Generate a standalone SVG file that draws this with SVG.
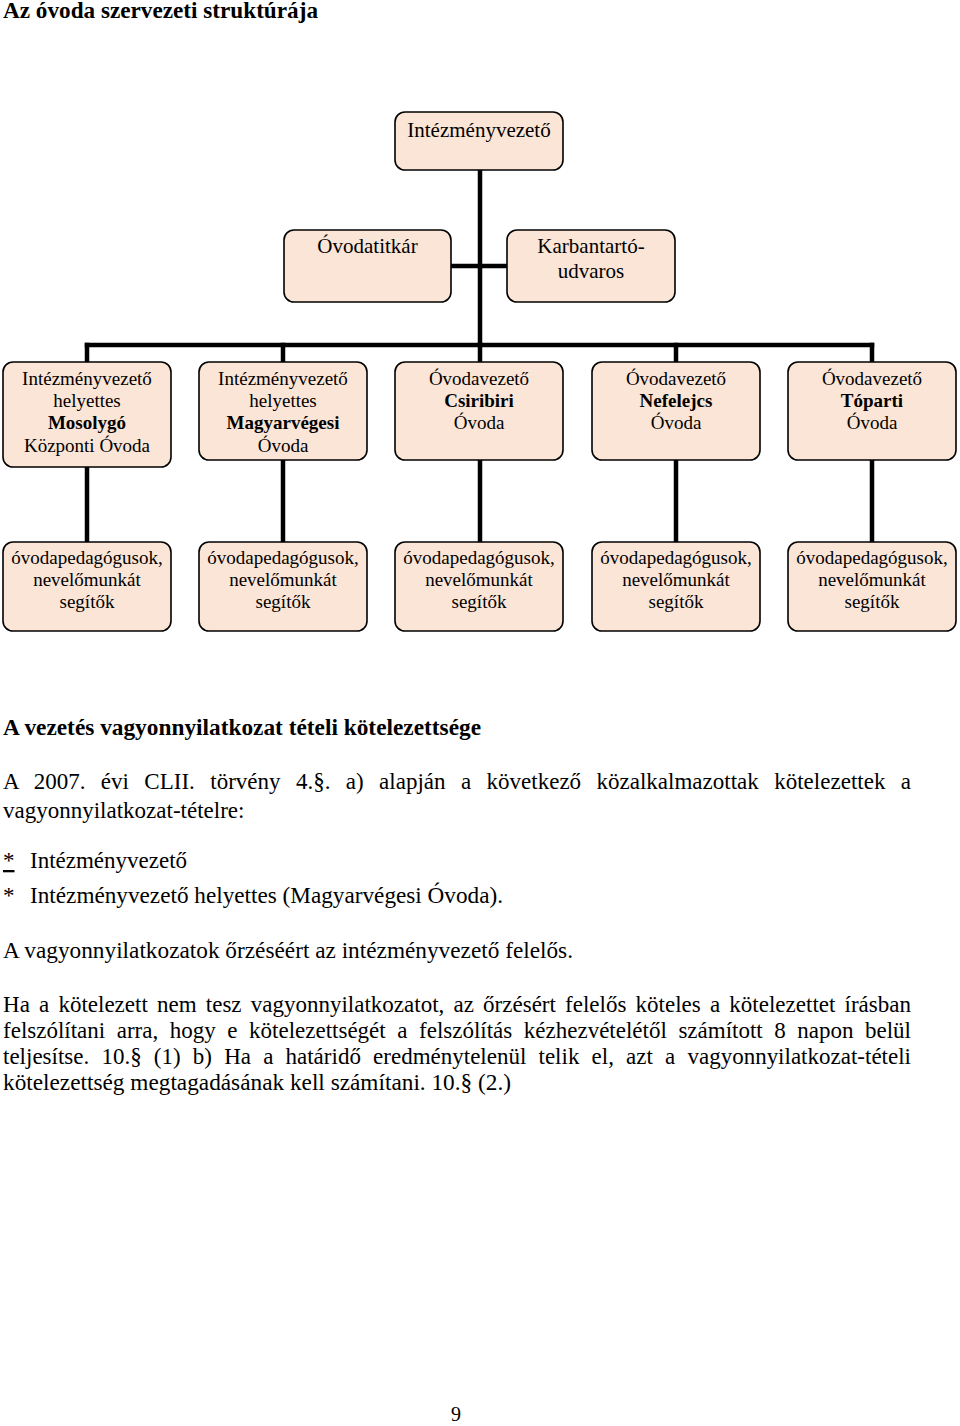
<svg xmlns="http://www.w3.org/2000/svg" width="960" height="1426" viewBox="0 0 960 1426">
<style>
  .bg { fill: #ffffff; }
  .box { fill: #FBE5D6; stroke: #000000; stroke-width: 1.6; }
  .conn { fill: none; stroke: #000000; stroke-width: 4.5; stroke-linecap: square; }
  .t { font-family: "Liberation Serif", "Times New Roman", serif; fill: #000000; }
  .big { font-size: 21px; text-anchor: middle; }
  .mid { font-size: 19px; text-anchor: middle; }
  .body { font-size: 23px; }
  .b { font-weight: bold; }
</style>
<rect class="bg" x="0" y="0" width="960" height="1426"/>

<text class="t body b" x="3" y="18" textLength="315" lengthAdjust="spacingAndGlyphs">Az óvoda szervezeti struktúrája</text>

<g id="connectors">
  <path class="conn" d="M480,170 V345"/>
  <path class="conn" d="M451,266 H507"/>
  <path class="conn" d="M87,345 H872"/>
  <path class="conn" d="M87,345 V362"/>
  <path class="conn" d="M283,345 V362"/>
  <path class="conn" d="M480,345 V362"/>
  <path class="conn" d="M676,345 V362"/>
  <path class="conn" d="M872,345 V362"/>
  <path class="conn" d="M87,467 V542"/>
  <path class="conn" d="M283,460 V542"/>
  <path class="conn" d="M480,460 V542"/>
  <path class="conn" d="M676,460 V542"/>
  <path class="conn" d="M872,460 V542"/>
</g>

<g id="n_intezmenyvezeto">
  <rect class="box" x="395" y="112" width="168" height="58" rx="10"/>
  <text class="t big" x="479" y="137">Intézményvezető</text>
</g>
<g id="n_ovodatitkar">
  <rect class="box" x="284" y="230" width="167" height="72" rx="10"/>
  <text class="t big" x="367.5" y="253">Óvodatitkár</text>
</g>
<g id="n_karbantarto">
  <rect class="box" x="507" y="230" width="168" height="72" rx="10"/>
  <text class="t big" x="591" y="253">Karbantartó-</text>
  <text class="t big" x="591" y="278">udvaros</text>
</g>

<g id="n_mosolygo">
  <rect class="box" x="3" y="362" width="168" height="105" rx="10"/>
  <text class="t mid" x="87" y="385">Intézményvezető</text>
  <text class="t mid" x="87" y="407">helyettes</text>
  <text class="t mid b" x="87" y="429">Mosolygó</text>
  <text class="t mid" x="87" y="452">Központi Óvoda</text>
</g>
<g id="n_magyarvegesi">
  <rect class="box" x="199" y="362" width="168" height="98" rx="10"/>
  <text class="t mid" x="283" y="385">Intézményvezető</text>
  <text class="t mid" x="283" y="407">helyettes</text>
  <text class="t mid b" x="283" y="429">Magyarvégesi</text>
  <text class="t mid" x="283" y="452">Óvoda</text>
</g>
<g id="n_csiribiri">
  <rect class="box" x="395" y="362" width="168" height="98" rx="10"/>
  <text class="t mid" x="479" y="385">Óvodavezető</text>
  <text class="t mid b" x="479" y="407">Csiribiri</text>
  <text class="t mid" x="479" y="429">Óvoda</text>
</g>
<g id="n_nefelejcs">
  <rect class="box" x="592" y="362" width="168" height="98" rx="10"/>
  <text class="t mid" x="676" y="385">Óvodavezető</text>
  <text class="t mid b" x="676" y="407">Nefelejcs</text>
  <text class="t mid" x="676" y="429">Óvoda</text>
</g>
<g id="n_toparti">
  <rect class="box" x="788" y="362" width="168" height="98" rx="10"/>
  <text class="t mid" x="872" y="385">Óvodavezető</text>
  <text class="t mid b" x="872" y="407">Tóparti</text>
  <text class="t mid" x="872" y="429">Óvoda</text>
</g>

<g id="n_staff1">
  <rect class="box" x="3" y="542" width="168" height="89" rx="10"/>
  <text class="t mid" x="87" y="564">óvodapedagógusok,</text>
  <text class="t mid" x="87" y="586">nevelőmunkát</text>
  <text class="t mid" x="87" y="608">segítők</text>
</g>
<g id="n_staff2">
  <rect class="box" x="199" y="542" width="168" height="89" rx="10"/>
  <text class="t mid" x="283" y="564">óvodapedagógusok,</text>
  <text class="t mid" x="283" y="586">nevelőmunkát</text>
  <text class="t mid" x="283" y="608">segítők</text>
</g>
<g id="n_staff3">
  <rect class="box" x="395" y="542" width="168" height="89" rx="10"/>
  <text class="t mid" x="479" y="564">óvodapedagógusok,</text>
  <text class="t mid" x="479" y="586">nevelőmunkát</text>
  <text class="t mid" x="479" y="608">segítők</text>
</g>
<g id="n_staff4">
  <rect class="box" x="592" y="542" width="168" height="89" rx="10"/>
  <text class="t mid" x="676" y="564">óvodapedagógusok,</text>
  <text class="t mid" x="676" y="586">nevelőmunkát</text>
  <text class="t mid" x="676" y="608">segítők</text>
</g>
<g id="n_staff5">
  <rect class="box" x="788" y="542" width="168" height="89" rx="10"/>
  <text class="t mid" x="872" y="564">óvodapedagógusok,</text>
  <text class="t mid" x="872" y="586">nevelőmunkát</text>
  <text class="t mid" x="872" y="608">segítők</text>
</g>

<g id="body-text">
  <text class="t body b" x="3" y="735" textLength="478" lengthAdjust="spacingAndGlyphs">A vezetés vagyonnyilatkozat tételi kötelezettsége</text>
  <text class="t body" x="3" y="789" word-spacing="9.6" textLength="908" lengthAdjust="spacing">A 2007. évi CLII. törvény 4.§. a) alapján a következő közalkalmazottak kötelezettek a</text>
  <text class="t body" x="3" y="818">vagyonnyilatkozat-tételre:</text>
  <text class="t body" x="3" y="868" text-decoration="underline">*</text>
  <text class="t body" x="30" y="868">Intézményvezető</text>
  <text class="t body" x="3" y="903">*</text>
  <text class="t body" x="30" y="903" textLength="473" lengthAdjust="spacingAndGlyphs">Intézményvezető helyettes (Magyarvégesi Óvoda).</text>
  <text class="t body" x="3" y="958" textLength="570" lengthAdjust="spacingAndGlyphs">A vagyonnyilatkozatok őrzéséért az intézményvezető felelős.</text>
  <text class="t body" x="3" y="1012" word-spacing="3.4" textLength="908" lengthAdjust="spacing">Ha a kötelezett nem tesz vagyonnyilatkozatot, az őrzésért felelős köteles a kötelezettet írásban</text>
  <text class="t body" x="3" y="1038" word-spacing="5.8" textLength="908" lengthAdjust="spacing">felszólítani arra, hogy e kötelezettségét a felszólítás kézhezvételétől számított 8 napon belül</text>
  <text class="t body" x="3" y="1064" word-spacing="6.4" textLength="908" lengthAdjust="spacing">teljesítse. 10.§ (1) b) Ha a határidő eredménytelenül telik el, azt a vagyonnyilatkozat-tételi</text>
  <text class="t body" x="3" y="1090" textLength="508" lengthAdjust="spacingAndGlyphs">kötelezettség megtagadásának kell számítani. 10.§ (2.)</text>
  <text class="t" x="451" y="1421" font-size="20">9</text>
</g>
</svg>
